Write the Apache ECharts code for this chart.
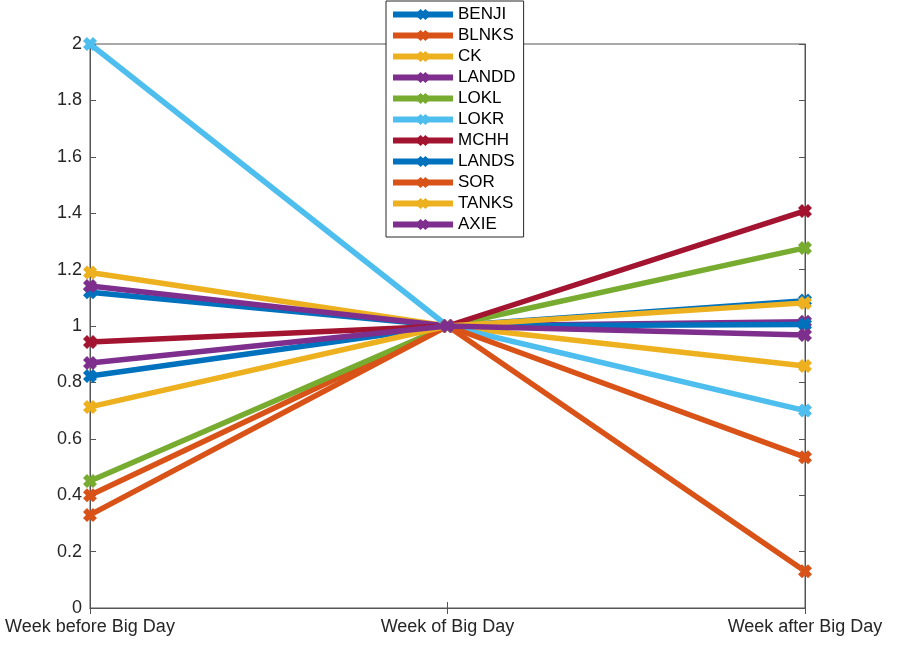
<!DOCTYPE html>
<html><head><meta charset="utf-8">
<script src="https://cdn.jsdelivr.net/npm/echarts@6/dist/echarts.min.js"></script>
<style>html,body{margin:0;padding:0;background:#fff}#c{width:897px;height:647px}</style>
</head><body><div id="c"></div>
<script>
const categories = ['Week before Big Day', 'Week of Big Day', 'Week after Big Day'];
const seriesNames = ['BENJI','BLNKS','CK','LANDD','LOKL','LOKR','MCHH','LANDS','SOR','TANKS','AXIE'];
const BENJI = [1.12, 1, 1.09];
const BLNKS = [0.40, 1, 0.13];
const CK    = [1.19, 1, 0.858];
const LANDD = [1.142, 1, 1.015];
const LOKL  = [0.45, 1, 1.277];
const LOKR  = [2.0, 1, 0.70];
const MCHH  = [0.943, 1, 1.408];
const LANDS = [0.823, 1, 1.005];
const SOR   = [0.33, 1, 0.535];
const TANKS = [0.713, 1, 1.082];
const AXIE  = [0.869, 1, 0.968];
const yTicks = [0, 0.2, 0.4, 0.6, 0.8, 1, 1.2, 1.4, 1.6, 1.8, 2];
const values = [BENJI, BLNKS, CK, LANDD, LOKL, LOKR, MCHH, LANDS, SOR, TANKS, AXIE];
const colors = ['#0072BD','#D95319','#EDB120','#7E2F8E','#77AC30','#4DBEEE','#A2142F','#0072BD','#D95319','#EDB120','#7E2F8E'];
const xSym = 'path://M0,4 L4,0 L7,3 L10,0 L14,4 L11,7 L14,10 L10,14 L7,11 L4,14 L0,10 L3,7 Z';
const axisColor = '#555555';
const textColor = '#262626';
const font = 'Liberation Sans, Arial, sans-serif';
const chart = echarts.init(document.getElementById('c'), null, {renderer:'canvas'});
chart.setOption({
  animation: false,
  backgroundColor: '#fff',
  grid: {left: 90, right: 92, top: 44, bottom: 39, show: true, borderColor: axisColor, borderWidth: 1, backgroundColor: 'transparent'},
  legend: {
    orient: 'vertical', left: 386, top: 1,
    padding: [5, 8, 4, 4], itemGap: 4,
    itemWidth: 60, itemHeight: 14,
    backgroundColor: '#fff', borderColor: '#262626', borderWidth: 1, borderRadius: 0,
    lineStyle: {width: 6},
    textStyle: {fontFamily: font, fontSize: 17, color: '#000', padding: [0,0,0,0]},
    data: seriesNames
  },
  xAxis: [{
    type: 'category', data: categories, boundaryGap: false,
    axisLine: {lineStyle: {color: axisColor}},
    axisTick: {inside: true, length: 6, lineStyle: {color: axisColor}},
    axisLabel: {color: textColor, fontSize: 18, fontFamily: font, margin: 10, interval: 0},
    splitLine: {show: false}
  }, {
    type: 'category', data: categories, boundaryGap: false, position: 'top',
    axisLine: {lineStyle: {color: axisColor}},
    axisTick: {inside: true, length: 6, lineStyle: {color: axisColor}},
    axisLabel: {show: false}, splitLine: {show: false}
  }],
  yAxis: [{
    type: 'value', min: 0, max: 2, interval: 0.2,
    axisLine: {show: true, lineStyle: {color: axisColor}},
    axisTick: {show: true, inside: true, length: 6, lineStyle: {color: axisColor}},
    axisLabel: {color: textColor, fontSize: 18, fontFamily: font, margin: 8,
      formatter: v => String(Math.round(v*10)/10)},
    splitLine: {show: false}
  }, {
    type: 'value', min: 0, max: 2, interval: 0.2, position: 'right',
    axisLine: {show: true, lineStyle: {color: axisColor}},
    axisTick: {show: true, inside: true, length: 6, lineStyle: {color: axisColor}},
    axisLabel: {show: false}, splitLine: {show: false}
  }],
  series: seriesNames.map((n, i) => ({
    name: n, type: 'line', data: values[i],
    xAxisIndex: 0, yAxisIndex: 0,
    symbol: xSym, symbolSize: 14, showSymbol: true,
    lineStyle: {width: 5.5, color: colors[i]},
    itemStyle: {color: colors[i]},
    emphasis: {disabled: true},
    z: 2 + i * 0.01
  }))
});
</script></body></html>
